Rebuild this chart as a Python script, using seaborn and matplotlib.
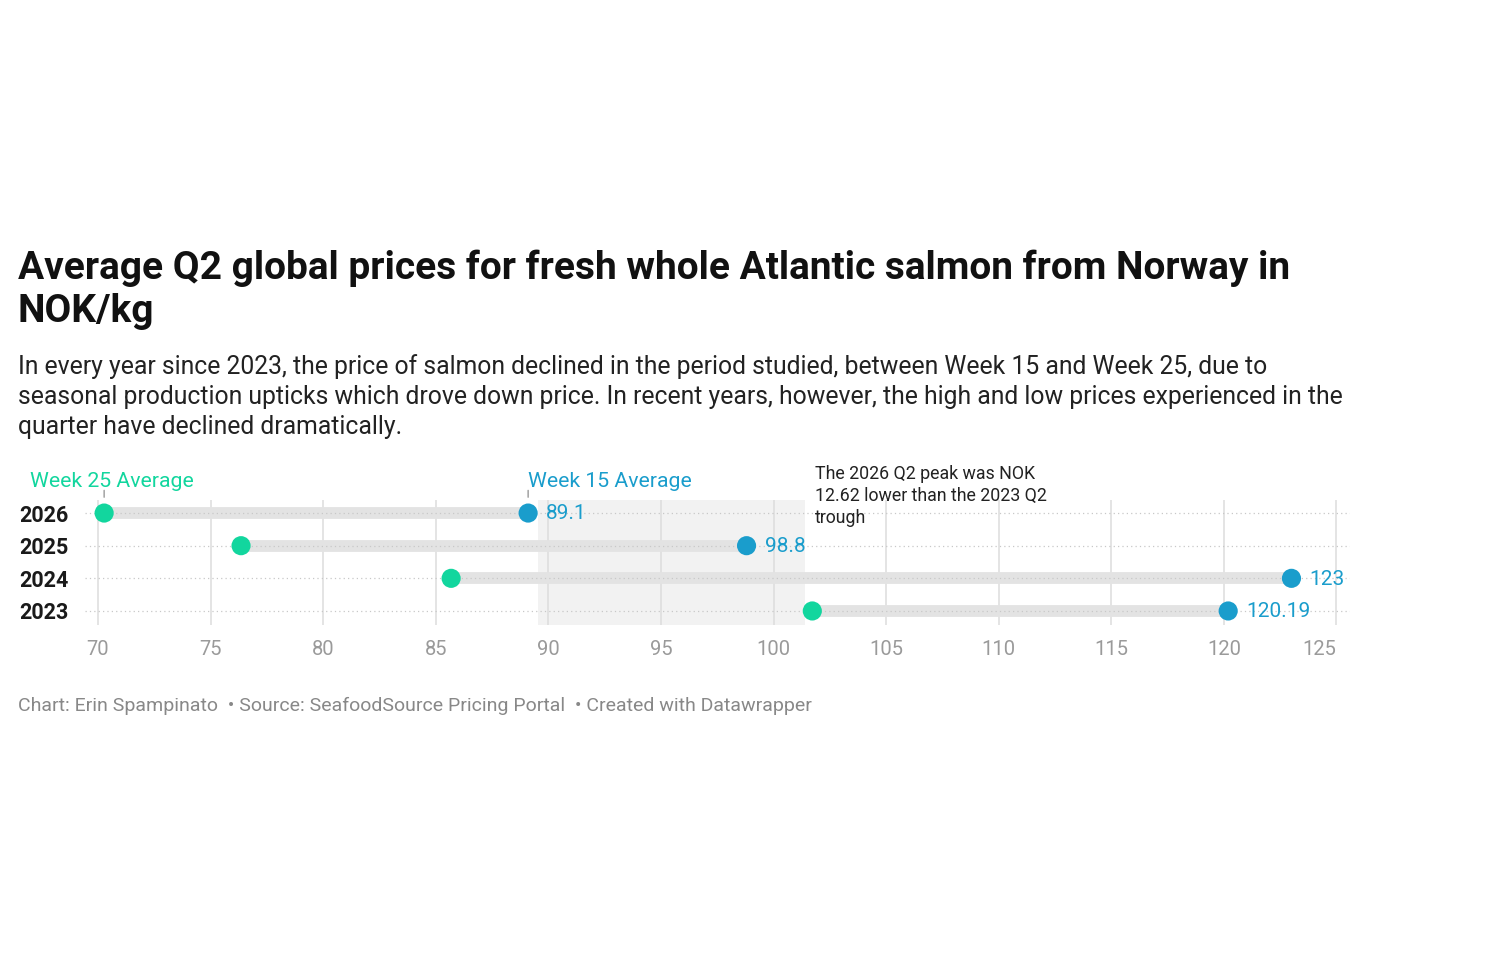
import matplotlib
matplotlib.use("Agg")
import matplotlib.pyplot as plt
import seaborn as sns
import pandas as pd

# ---- data ----
years = ["2026", "2025", "2024", "2023"]
week25 = [70.27, 76.35, 85.68, 101.72]
week15 = [89.1, 98.8, 123.0, 120.19]
week15_labels = ["89.1", "98.8", "123", "120.19"]
xticks = [70, 75, 80, 85, 90, 95, 100, 105, 110, 115, 120, 125]
highlight = (89.55, 101.4)

GREEN = "#12d69e"
BLUE = "#1a9dcc"

sns.set_theme(style="white")
plt.rcParams["font.family"] = ["Roboto", "DejaVu Sans"]

W, H = 1500, 960
fig = plt.figure(figsize=(15, 9.6), dpi=100)

def fx(px):
    return px / W

def fy(py):
    return 1 - py / H

# axes: x px 85..1350, y px 500..625
ax = fig.add_axes([fx(85), fy(625), fx(1350) - fx(85), fy(500) - fy(625)])

df = pd.DataFrame({
    "year": years * 2,
    "value": week25 + week15,
    "series": ["Week 25 Average"] * 4 + ["Week 15 Average"] * 4,
})
ypos = {y: i for i, y in enumerate(years)}
df["pos"] = df["year"].map(ypos)

ax.set_xlim(69.42, 125.6)
ax.set_ylim(3.43, -0.40)

# highlight band
ax.axvspan(highlight[0], highlight[1], color="#f2f2f2", zorder=0, lw=0)

# vertical gridlines
for t in xticks:
    ax.axvline(t, color="#dddddd", lw=1.1, zorder=1)

# range bars
ax.hlines(list(range(len(years))), week25, week15, color="#e3e3e3", lw=8.5, zorder=2)

# dotted row lines
for i in range(len(years)):
    ax.axhline(i, color="#c8c8c8", lw=0.9, ls=(0, (1, 2.5)), zorder=2.5)

sns.scatterplot(data=df, x="value", y="pos", hue="series",
                palette={"Week 25 Average": GREEN, "Week 15 Average": BLUE},
                s=190, edgecolor="none", legend=False, ax=ax, zorder=3)

for i, (v, lab) in enumerate(zip(week15, week15_labels)):
    ax.annotate(lab, (v, i), xytext=(13, -0.5), textcoords="offset points",
                va="center", ha="left", color=BLUE, fontsize=15)

ax.set_xticks(xticks)
ax.set_xticklabels([str(t) for t in xticks], color="#9a9a9a", fontsize=14.5)
ax.get_xticklabels()[-1].set_horizontalalignment("right")
ax.set_yticks(range(len(years)))
ax.set_yticklabels(years, fontsize=15.5, fontweight="bold", color="#1a1a1a")
ax.tick_params(axis="x", length=0, pad=11)
ax.tick_params(axis="y", length=0, pad=12)
ax.set_xlabel("")
ax.set_ylabel("")
for s in ax.spines.values():
    s.set_visible(False)
ax.set_facecolor("none")

# series labels with tick marks
fig.text(fx(30), fy(481), "Week 25 Average", color=GREEN, fontsize=15.3, va="center", ha="left")
fig.text(fx(528), fy(481), "Week 15 Average", color=BLUE, fontsize=15.3, va="center", ha="left")
ax.annotate("", xy=(week25[0], -0.40), xytext=(week25[0], -0.78),
            arrowprops=dict(arrowstyle="-", color="#999999", lw=1), annotation_clip=False)
ax.annotate("", xy=(week15[0], -0.40), xytext=(week15[0], -0.78),
            arrowprops=dict(arrowstyle="-", color="#999999", lw=1), annotation_clip=False)

# annotation
fig.text(fx(815), fy(496), "The 2026 Q2 peak was NOK\n12.62 lower than the 2023 Q2\ntrough",
         fontsize=12.8, color="#222222", va="center", ha="left", linespacing=1.28)

# title & subtitle
fig.text(fx(18), fy(268), "Average Q2 global prices for fresh whole Atlantic salmon from Norway in",
         fontsize=28, fontweight="bold", color="#111111", va="center", ha="left")
fig.text(fx(18), fy(312), "NOK/kg", fontsize=28, fontweight="bold", color="#111111",
         va="center", ha="left")
sub = ["In every year since 2023, the price of salmon declined in the period studied, between Week 15 and Week 25, due to",
       "seasonal production upticks which drove down price. In recent years, however, the high and low prices experienced in the",
       "quarter have declined dramatically."]
for k, line in enumerate(sub):
    fig.text(fx(18), fy(367 + 30 * k), line, fontsize=17.8, color="#222222", va="center", ha="left")

fig.text(fx(18), fy(706),
         "Chart: Erin Spampinato  \u2022 Source: SeafoodSource Pricing Portal  \u2022 Created with Datawrapper",
         fontsize=14, color="#888888", va="center", ha="left")

fig.savefig("out.png", dpi=100, facecolor="white")
